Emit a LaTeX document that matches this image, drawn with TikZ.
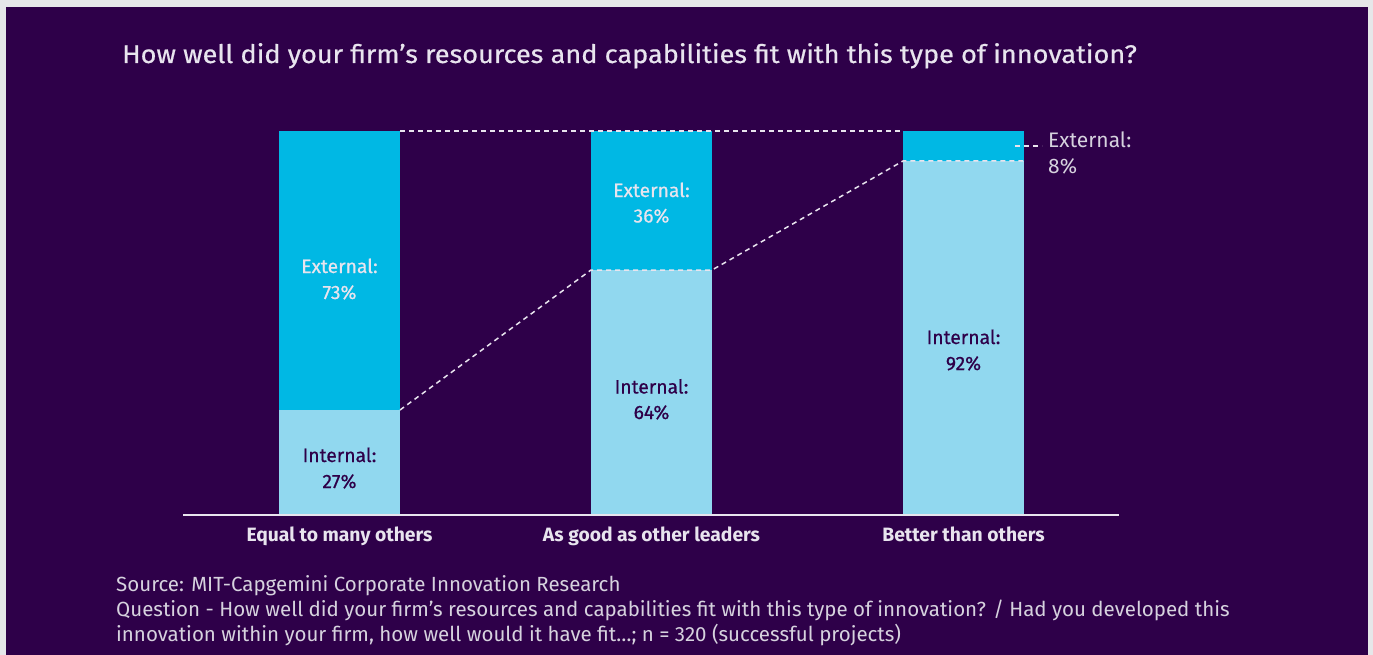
\documentclass[tikz,border=0pt]{standalone}
\usepackage{fontspec}
\setmainfont{Fira Sans}
\newfontfamily\firamed[FakeBold=0.6]{Fira Sans}
\definecolor{bgpurple}{HTML}{2E0049}
\definecolor{framegray}{HTML}{E6E7E9}
\definecolor{extblue}{HTML}{00B8E4}
\definecolor{intblue}{HTML}{91D8EF}
\definecolor{lighttext}{HTML}{E8E4EE}
\definecolor{sourcetext}{HTML}{D6D2DE}
\tikzset{
  x=1pt, y=-1pt,
  extbar/.style={fill=extblue, draw=none},
  intbar/.style={fill=intblue, draw=none},
  guide/.style={draw=lighttext, line width=1.5pt, dash pattern=on 5pt off 4pt},
  axisline/.style={draw=lighttext, line width=2pt},
  extlabel/.style={anchor=base, inner sep=0pt, text=lighttext, font=\firamed\fontsize{19.3}{22}\selectfont},
  intlabel/.style={anchor=base, inner sep=0pt, text=bgpurple, font=\firamed\fontsize{19.3}{22}\selectfont},
  catlabel/.style={anchor=base, inner sep=0pt, text=lighttext, font=\fontsize{19.3}{22}\selectfont\bfseries},
  titlelabel/.style={anchor=base west, inner sep=0pt, text=lighttext, font=\firamed\fontsize{25.5}{30}\selectfont\addfontfeature{FakeStretch=1.064}},
  sourcelabel/.style={anchor=base west, inner sep=0pt, text=sourcetext, font=\fontsize{20.5}{25}\selectfont},
  outlabel/.style={anchor=base west, inner sep=0pt, text=sourcetext, font=\fontsize{21}{25}\selectfont},
}
\begin{document}
\begin{tikzpicture}
\useasboundingbox (0,0) rectangle (1373,655);
\fill[framegray] (0,0) rectangle (1373,655);
\fill[bgpurple] (6,7) rectangle (1368,655);

% title
\node[titlelabel] (title) at (122,63) {How well did your firm’s resources and capabilities fit with this type of innovation?};

% bars
\fill[extbar] (279,131) rectangle (400,410);
\fill[intbar] (279,410) rectangle (400,515);
\fill[extbar] (591,131) rectangle (712,270);
\fill[intbar] (591,270) rectangle (712,515);
\fill[extbar] (903,131) rectangle (1024,161);
\fill[intbar] (903,161) rectangle (1024,515);

% named corner coordinates
\coordinate (b1top) at (400,131);
\coordinate (b3topl) at (903,131);
\coordinate (b1mid) at (400,410);
\coordinate (b2midl) at (591,270);
\coordinate (b2midr) at (712,270);
\coordinate (b3midl) at (903,161);
\coordinate (b3midr) at (1024,161);
\coordinate (leadA) at (1015,146);
\coordinate (leadB) at (1042,146);

% guide lines
\draw[guide] (b1top) -- (b3topl);
\draw[guide] (b1mid) -- (b2midl) -- (b2midr) -- (b3midl) -- (b3midr);
\draw[guide] (leadA) -- (leadB);

% axis
\coordinate (axL) at (183,515);
\coordinate (axR) at (1119,515);
\draw[axisline] (axL) -- (axR);

% bar labels
\node[extlabel] (e1a) at (339.5,273) {External:};
\node[extlabel] (e1b) at (339.5,299) {73\%};
\node[intlabel] (i1a) at (339.5,462) {Internal:};
\node[intlabel] (i1b) at (339.5,488) {27\%};
\node[extlabel] (e2a) at (651.5,197) {External:};
\node[extlabel] (e2b) at (651.5,222.5) {36\%};
\node[intlabel] (i2a) at (651.5,393.5) {Internal:};
\node[intlabel] (i2b) at (651.5,419) {64\%};
\node[intlabel] (i3a) at (963.5,344) {Internal:};
\node[intlabel] (i3b) at (963.5,370) {92\%};

% outside label
\node[outlabel] (e3a) at (1048,147.5) {External:};
\node[outlabel] (e3b) at (1048,173.5) {8\%};

% categories
\node[catlabel] (c1) at (339.5,541) {Equal to many others};
\node[catlabel] (c2) at (651.5,541) {As good as other leaders};
\node[catlabel] (c3) at (963.5,541) {Better than others};

% source
\node[sourcelabel] (s1) at (116,591) {Source: MIT-Capgemini Corporate Innovation Research};
\node[sourcelabel] (s2) at (116,616) {Question - How well did your firm’s resources and capabilities fit with this type of innovation? / Had you developed this};
\node[sourcelabel] (s3) at (116,641) {innovation within your firm, how well would it have fit…; n = 320 (successful projects)};
\end{tikzpicture}
\end{document}
